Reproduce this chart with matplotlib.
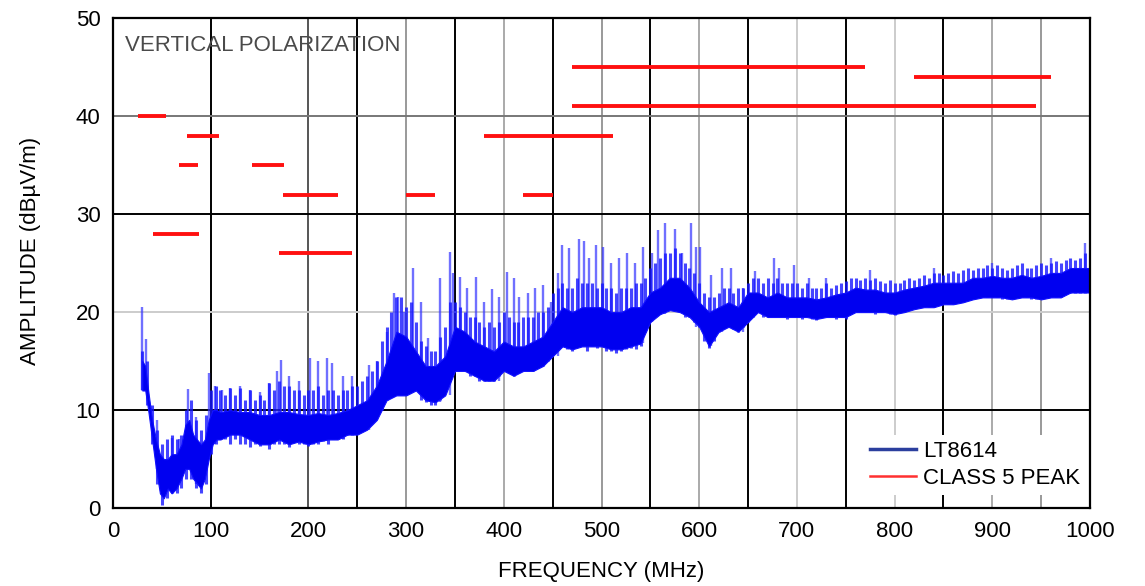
import matplotlib
matplotlib.use("Agg")
import matplotlib.pyplot as plt

plt.rcParams['font.family'] = ['Liberation Sans', 'DejaVu Sans']

# LT8614 trace: solid core of the band (MHz, dBuV/m)
trace_freq = [30, 33, 36, 40, 44, 48, 52, 56, 60, 65, 70, 74, 78, 82, 86, 90, 94, 98,
              102, 106, 110, 120, 130, 140, 150, 160, 170, 180, 190, 200, 210, 220,
              230, 240, 250, 260, 270, 280, 290, 300, 310, 320, 330, 340, 350, 360,
              370, 380, 390, 400, 410, 420, 430, 440, 450, 460, 470, 480, 490, 500,
              510, 520, 530, 540, 550, 560, 570, 580, 590, 600, 610, 620, 630, 640,
              650, 660, 670, 680, 690, 700, 710, 720, 730, 740, 750, 760, 770, 780,
              790, 800, 810, 820, 830, 840, 850, 860, 870, 880, 890, 900, 910, 920,
              930, 940, 950, 960, 970, 980, 990, 1000]
trace_low = [12, 12, 10, 7, 4, 1.5, 1, 2, 1.5, 2, 3, 4, 4, 3, 2.5, 2, 3, 5,
             6.5, 7, 7, 7.5, 7.5, 7, 6.5, 6.5, 7, 6.5, 6.8, 6.5, 6.8, 7,
             7, 7.5, 7.5, 8, 9, 11, 11.5, 11.5, 12, 11, 10.8, 11.5, 14, 14,
             13.5, 13, 13, 14, 13.5, 14, 14, 14.5, 15.5, 16.5, 16.2, 16.5, 16.5, 16.5,
             16.2, 16.2, 16.5, 16.8, 19, 19.8, 20.2, 20, 19.5, 18.5, 16.5, 18, 18.5, 18,
             19, 20, 19.5, 19.5, 19.5, 19.5, 19.5, 19.3, 19.5, 19.5, 19.5, 20, 20, 20,
             20, 19.8, 20, 20.3, 20.5, 20.5, 20.8, 20.8, 21, 21.3, 21.5, 21.5, 21.5, 21.3,
             21.5, 21.5, 21.3, 21.5, 21.5, 22, 22, 22]
trace_high = [15, 14.5, 12, 9, 7, 5.5, 5, 5, 5.5, 5.5, 6.5, 8.5, 9, 7.5, 7, 6.5, 7, 9,
              10, 10, 9.8, 10, 9.8, 9.8, 9.5, 9.5, 9.8, 9.8, 9.6, 9.5, 9.7, 9.5,
              9.7, 10, 10.5, 11, 12.5, 15, 18, 17.5, 16, 14.5, 14.5, 15.5, 18.5, 18,
              17, 16.5, 16, 17, 16.5, 16.5, 17, 17.5, 19, 20.5, 20, 20.5, 20.5, 20.5,
              20, 20, 20.5, 20.5, 22, 22.5, 23.5, 23.5, 22.5, 21, 20, 20.5, 21, 20.5,
              22, 22, 21.5, 22, 21.5, 21.5, 21.5, 21.3, 21.5, 21.8, 22, 22.5, 22.3, 22.3,
              22, 22, 22.3, 22.5, 22.7, 23, 23, 23, 23, 23.5, 23.5, 23.7, 23.5, 23.5,
              23.8, 23.5, 23.7, 24, 24, 24.5, 24.5, 24.5]

# fuzzy edges of the band, one reading every 5 MHz from 30 to 1000 MHz
hair_freq = list(range(30, 1001, 5))
hair_low = [12, 10.5, 6.5, 2.5, 0.3, 1, 1.5, 1.5, 2, 3, 3, 2, 1.5, 2.5,
            5.5, 6.5, 7, 7, 6.5, 7, 6.5, 6.5, 6.2, 6.5, 6.3, 6.5, 6, 6.5,
            6.5, 6.5, 6.2, 6.8, 6.5, 6.5, 6.3, 6.5, 6.5, 6.8, 6.5, 7, 7, 7,
            7.5, 7.5, 7.8, 8, 8.5, 9, 9.5, 10, 11, 11.5, 11.5, 11.5, 11.8, 12,
            12, 11, 10.8, 10.5, 10.5, 11, 12, 13.5, 14.5, 14.5, 14, 13.5, 13.5, 13,
            13, 13, 13, 13.5, 14, 14, 13.5, 13.8, 14, 14, 14, 14.3, 14.5, 15,
            15.8, 16.2, 16.5, 16.2, 16, 16.5, 16.5, 16, 16.5, 16.3, 16.5, 16, 16, 15.8,
            16, 16.2, 16.3, 16.2, 16.5, 18, 19, 19.5, 19.8, 20.2, 20.2, 20.3, 20, 19.5,
            19.5, 19, 18.5, 17, 16.3, 17, 18, 18.5, 18.5, 18.3, 18, 18.5, 19, 19.5,
            20, 19.5, 19.5, 19.5, 19.5, 19.5, 19.3, 19.5, 19.5, 19.3, 19.5, 19.3, 19.2, 19.5,
            19.5, 19.5, 19.3, 19.5, 19.3, 20, 20, 20, 20, 20, 19.8, 20, 20, 19.8,
            19.7, 20, 20, 20.2, 20.3, 20.5, 20.5, 20.5, 20.5, 20.8, 20.8, 20.8, 20.8, 21,
            21, 21.2, 21.3, 21.5, 21.5, 21.5, 21.5, 21.5, 21.3, 21.3, 21.3, 21.5, 21.5, 21.5,
            21.3, 21.3, 21.3, 21.5, 21.5, 21.5, 21.5, 21.8, 22, 22, 22, 22, 22]
hair_high = [16, 15, 10.5, 8, 6.5, 7, 7.5, 7, 7.5, 10, 11, 9, 8, 9.5,
             12, 12.5, 12, 11.5, 12.3, 11.5, 12.3, 11, 12, 11, 11.5, 11, 12.8, 12,
             13, 12.5, 12.5, 12, 12, 11.5, 12, 12, 12.5, 11.5, 12, 12, 11.5, 12,
             12, 12.5, 12.5, 13, 13.5, 14, 15, 17, 18.5, 20, 21.5, 21.5, 20.5, 21,
             19, 17, 16.5, 16, 16, 17.5, 18.5, 21, 21, 20.5, 20, 19.5, 19.5, 19,
             18.5, 19, 18.5, 19, 20, 19.5, 19, 19, 19.5, 19.5, 19.5, 20, 20, 20.5,
             22, 22.5, 23, 22.5, 22.5, 23.5, 23, 23, 23, 22.5, 23, 22.5, 22.5, 22,
             22.5, 22.5, 22.5, 23, 23, 23.5, 24.5, 25, 25.5, 26, 26, 26.5, 26, 25,
             24.5, 24, 23, 22, 21.5, 21.5, 22, 22.5, 22.5, 22, 22.5, 22.5, 23, 23.5,
             23.5, 23, 23.5, 23, 23.5, 23, 23, 23, 23, 22.5, 23, 22.5, 22.5, 22.5,
             23, 22.5, 22.8, 23, 23.2, 23.5, 23.5, 23.3, 23.5, 23.3, 23.5, 23.2, 23, 23.3,
             23, 23, 23.3, 23.5, 23.3, 23.5, 23.8, 23.5, 24, 24, 23.8, 24, 24.2, 24,
             24.3, 24.5, 24.3, 24.5, 24.5, 24.8, 24.5, 24.8, 24.5, 24.3, 24.5, 24.8, 25, 24.5,
             24.5, 24.8, 25, 24.8, 25, 25.2, 25, 25.3, 25.5, 25.3, 25.5, 26, 26]

# narrow spikes standing above the band
spike_freq = [30, 34, 45, 60, 68, 77, 85, 98, 104, 112, 120, 130, 140, 150, 160, 168,
              172, 180, 190, 202, 210, 219, 224, 235, 245, 262, 270, 280, 288, 292,
              298, 307, 315, 322, 335, 345, 348, 355, 362, 372, 380, 388, 395, 403,
              410, 416, 425, 432, 440, 448, 455, 460, 467, 477, 482, 487, 494, 502,
              510, 518, 526, 534, 542, 552, 558, 565, 575, 582, 592, 597, 601, 612,
              623, 633, 645, 657, 677, 682, 697, 712, 730, 775, 840, 900, 960, 995]
spike_top = [20.5, 17.3, 9, 7.2, 7, 12.2, 9.3, 13.8, 12.5, 12, 12.3, 12.5, 12, 11.8, 12.8, 14,
             15.1, 13.5, 13, 15.3, 15, 15.3, 14.8, 13.5, 13.5, 14.6, 15, 18, 22, 21.5,
             20, 24.5, 21, 17.4, 23.5, 26.1, 24, 23.6, 22.5, 23.6, 21, 22.4, 21.5, 24.1,
             23.5, 21.5, 22, 22.5, 22.8, 21, 24, 26.8, 26.5, 27.5, 27.3, 25.5, 26.8, 26.6,
             25, 25.5, 26, 25, 26.6, 26, 28.4, 29.1, 28.5, 26, 29.1, 26.6, 26.6, 23.8,
             24.5, 24.5, 22.5, 24.2, 25.5, 24.5, 24.8, 23.5, 23.5, 24.3, 24.5, 25, 25.5, 27.1]

# CLASS 5 PEAK limit segments
limit_start = [26, 41, 68, 76, 142, 170, 174, 300, 380, 420, 470, 470, 820]
limit_stop = [54, 88, 87, 108, 175, 245, 230, 330, 512, 450, 770, 945, 960]
limit_level = [40, 28, 35, 38, 35, 26, 32, 32, 38, 32, 45, 41, 44]

fig = plt.figure(figsize=(11.45, 5.86), dpi=100)
ax = fig.add_axes([0.0987, 0.133, 0.8533, 0.836])

# grid, drawn by hand because the shades differ line to line
for x in [100, 250, 350, 450, 550, 650, 750, 850]:
    ax.axvline(x, color='black', lw=1.4, zorder=1)
for x, c in [(200, '#555555'), (300, '#999999'), (400, '#aaaaaa'), (500, '#999999'),
             (600, '#aaaaaa'), (700, '#cccccc'), (800, '#cccccc'), (900, '#aaaaaa'),
             (950, '#999999')]:
    ax.axvline(x, color=c, lw=1.4, zorder=1)
for y, c in [(10, 'black'), (20, '#cccccc'), (30, 'black'), (40, '#777777')]:
    ax.axhline(y, color=c, lw=1.4, zorder=1)

low_at = dict(zip(trace_freq, trace_low))
base = [low_at[min(trace_freq, key=lambda t: abs(t - f))] for f in spike_freq]
ax.vlines(spike_freq, base, spike_top, color='#3333ff', lw=1.7, alpha=0.7, zorder=2)
ax.vlines(hair_freq, hair_low, hair_high, color='#1515ff', lw=2.2, alpha=0.8, zorder=3)
ax.fill_between(trace_freq, trace_low, trace_high, color='#0000f0', lw=0.8,
                edgecolor='#1010ff', zorder=3)

ax.hlines(limit_level, limit_start, limit_stop, color='#ff1010', lw=2.8, zorder=4)

ax.plot([], [], color='#2b3f9e', lw=2.5, label='LT8614')
ax.plot([], [], color='#ff3030', lw=1.8, label='CLASS 5 PEAK')
leg = ax.legend(loc='center', bbox_to_anchor=(0.882, 0.088), frameon=True,
                facecolor='white', edgecolor='none', framealpha=1, fontsize=16,
                handlelength=2.1, labelspacing=0.25, handletextpad=0.3,
                borderpad=0.3)
leg.set_zorder(6)

ax.text(12, 47.2, 'VERTICAL POLARIZATION', fontsize=16, color='#4a4a4a',
        ha='left', va='center', zorder=5)

ax.set_xlim(0, 1000)
ax.set_ylim(0, 50)
ax.set_xticks(range(0, 1001, 100))
ax.set_yticks(range(0, 51, 10))
ax.tick_params(length=0, labelsize=16, pad=9)
for s in ax.spines.values():
    s.set_linewidth(1.6)
    s.set_zorder(7)
ax.set_xlabel('FREQUENCY (MHz)', fontsize=16, labelpad=14)
ax.set_ylabel('AMPLITUDE (dBµV/m)', fontsize=16)
ax.yaxis.set_label_coords(-0.074, 0.525)

fig.savefig('out.png', dpi=100)
